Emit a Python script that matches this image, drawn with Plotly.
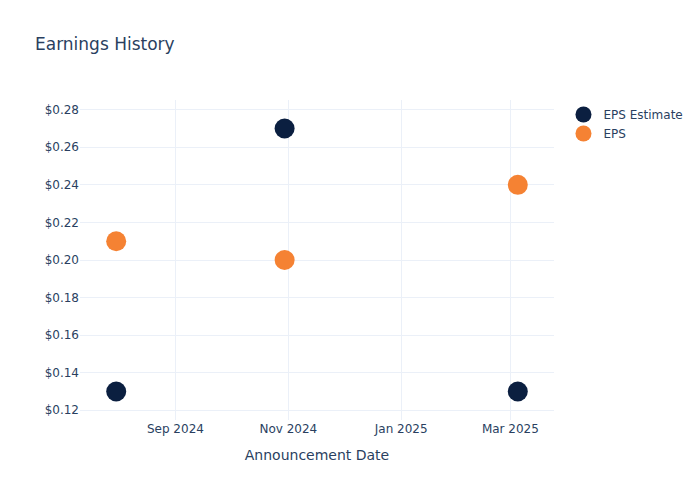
import plotly.graph_objects as go

# --- Data ---
dates = ['2024-07-31', '2024-10-30', '2025-03-05']
eps_estimate = [0.13, 0.27, 0.13]
eps_actual = [0.21, 0.20, 0.24]

NAVY = '#0B1F40'
ORANGE = '#F58233'

fig = go.Figure()
fig.add_trace(go.Scatter(
    x=dates, y=eps_estimate, mode='markers', name='EPS Estimate',
    marker=dict(color=NAVY, size=20)
))
fig.add_trace(go.Scatter(
    x=dates, y=eps_actual, mode='markers', name='EPS',
    marker=dict(color=ORANGE, size=20)
))

fig.update_layout(
    template='plotly_white',
    width=700, height=500,
    font=dict(family='DejaVu Sans, Verdana, sans-serif'),
    title=dict(text='Earnings History'),
    xaxis=dict(title='Announcement Date', dtick='M2', tickformat='%b %Y'),
    yaxis=dict(tickprefix='$', tickformat='.2f', dtick=0.02),
)

# page flush with the window edge, no toolbar
fig.write_html("out.html", config={'displayModeBar': False},
               post_script="document.body.style.margin='0';")
